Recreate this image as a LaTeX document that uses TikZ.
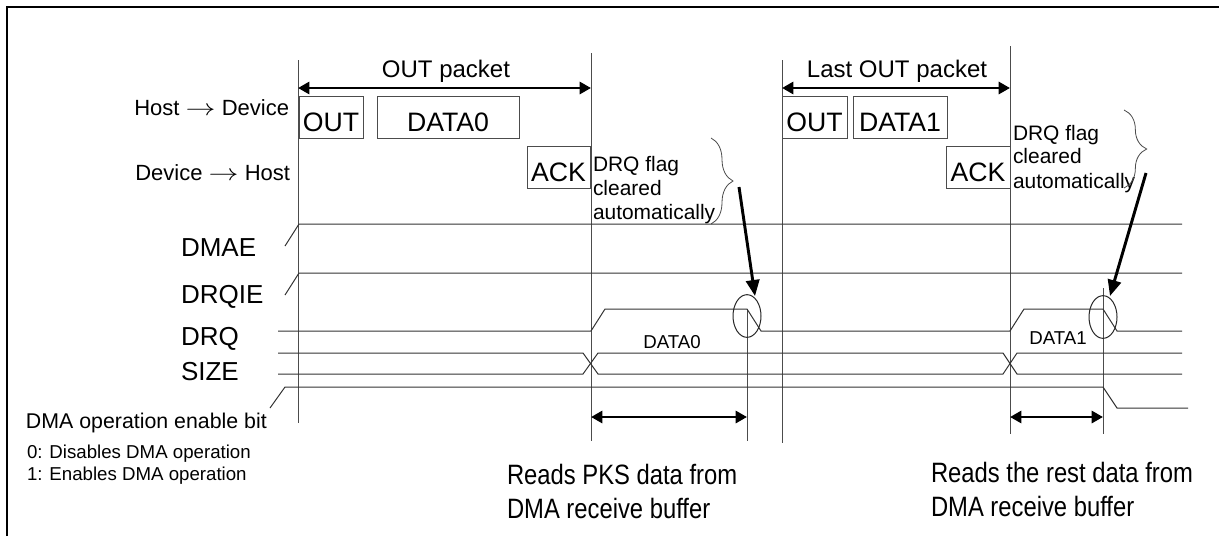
\documentclass[tikz,border=0pt]{standalone}
\usepackage{graphicx}
\usepackage{fontspec}
\setmainfont{Liberation Sans}
\newfontfamily\narrowfont[FakeStretch=0.85]{Liberation Sans}
\usetikzlibrary{arrows.meta,decorations.pathreplacing,shapes.geometric}
\colorlet{lncol}{black!80}
\newcommand{\harr}{\scalebox{1.3}[1]{$\rightarrow$}}
\tikzset{
  txt/.style={inner sep=0pt, outer sep=0pt, text=black},
  pkt/.style={txt, font=\fontsize{18}{21}\selectfont},
  hdtxt/.style={txt, font=\fontsize{16.5}{19}\selectfont},
  boxtxt/.style={txt, font=\fontsize{20}{24}\selectfont},
  sigtxt/.style={txt, font=\fontsize{19.5}{23}\selectfont},
  notetxt/.style={txt, font=\fontsize{15.7}{18}\selectfont},
  bittxt/.style={txt, font=\fontsize{16}{19}\selectfont},
  smalltxt/.style={txt, font=\fontsize{14}{17}\selectfont},
  datatxt/.style={txt, font=\fontsize{14}{17}\selectfont},
  readtxt/.style={txt, font=\narrowfont\fontsize{21}{25}\selectfont},
  sig/.style={draw=lncol, line width=0.75pt},
  vline/.style={draw=black!70, line width=0.75pt},
  pbox/.style={draw=black!70, line width=0.75pt},
  bigarrow/.style={line width=2.2pt, {Triangle[length=8.5pt,width=9pt]}-{Triangle[length=8.5pt,width=9pt]}},
  pointer/.style={line width=2.2pt, -{Triangle[length=12pt,width=10pt]}},
  bracestyle/.style={draw=black!70, line width=0.6pt, decorate},
  ring/.style={draw=black!85, line width=0.75pt, ellipse, inner sep=0pt, minimum width=21pt, minimum height=32pt},
}
\begin{document}
\begin{tikzpicture}[x=0.75pt,y=-0.75pt]
\useasboundingbox (0,0) rectangle (1219,536);
% frame
\draw[line width=1.8pt] (7,536) -- (7,7) -- (1219,7);

% vertical guide lines
\coordinate (v1t) at (298,60);   \coordinate (v1b) at (298,423);
\coordinate (v2t) at (591,53);   \coordinate (v2b) at (591,441);
\coordinate (v3t) at (747,309);  \coordinate (v3b) at (747,441);
\coordinate (v4t) at (782,60);   \coordinate (v4b) at (782,443);
\coordinate (v5t) at (1010,46);  \coordinate (v5b) at (1010,434);
\coordinate (v6t) at (1103,288); \coordinate (v6b) at (1103,434);
\foreach \v in {1,...,6} { \draw[vline] (v\v t) -- (v\v b); }

% packet arrows
\coordinate (pa1l) at (298,88); \coordinate (pa1r) at (591,88);
\coordinate (pa2l) at (782,88); \coordinate (pa2r) at (1010,88);
\draw[bigarrow] (pa1l) -- (pa1r);
\draw[bigarrow] (pa2l) -- (pa2r);
\node[pkt, anchor=base] (lp1) at (446,77) {OUT packet};
\node[pkt, anchor=base] (lp2) at (897,77) {Last OUT packet};

% direction labels
\node[hdtxt, anchor=base east] (hd) at (289,115) {Host \harr{} Device};
\node[hdtxt, anchor=base east] (dh) at (290,180) {Device \harr{} Host};

% packet boxes
\draw[pbox] (299,96) rectangle (363,138);
\draw[pbox] (377,96) rectangle (519,138);
\draw[pbox] (527,146) rectangle (590,188);
\draw[pbox] (782,96) rectangle (847,138);
\draw[pbox] (853,96) rectangle (947,138);
\draw[pbox] (946,146) rectangle (1010,188);
\node[boxtxt, anchor=base] (bout1) at (331,131) {OUT};
\node[boxtxt, anchor=base] (bdata0) at (448,131) {DATA0};
\node[boxtxt, anchor=base] (back1) at (558.5,181) {ACK};
\node[boxtxt, anchor=base] (bout2) at (814.5,131) {OUT};
\node[boxtxt, anchor=base] (bdata1) at (900,131) {DATA1};
\node[boxtxt, anchor=base] (back2) at (978,181) {ACK};

% notes
\node[notetxt, anchor=base west] (n1a) at (593,171) {DRQ flag};
\node[notetxt, anchor=base west] (n1b) at (593,195) {cleared};
\node[notetxt, anchor=base west] (n1c) at (593,219) {automatically};
\node[notetxt, anchor=base west] (n2a) at (1013,140) {DRQ flag};
\node[notetxt, anchor=base west] (n2b) at (1013,163) {cleared};
\node[notetxt, anchor=base west] (n2c) at (1013,188) {automatically};
\draw[bracestyle, decoration={brace, amplitude=16.5pt}] (711,138) -- (711,224);
\draw[bracestyle, decoration={brace, amplitude=17pt}] (1124,110) -- (1124,188);

% signal labels
\node[sigtxt, anchor=base west] (ldmae) at (181,256) {DMAE};
\node[sigtxt, anchor=base west] (ldrqie) at (181,303) {DRQIE};
\node[sigtxt, anchor=base west] (ldrq) at (181,345) {DRQ};
\node[sigtxt, anchor=base west] (lsize) at (181,380) {SIZE};
\node[bittxt, anchor=base west] (lbit) at (26,428) {DMA operation enable bit};
\node[smalltxt, anchor=base west] (lb0) at (27,458) {0: Disables DMA operation};
\node[smalltxt, anchor=base west] (lb1) at (27,480) {1: Enables DMA operation};

% waveforms
\draw[sig] (285,246) -- (299,224) -- (1182,224);
\draw[sig] (285,295) -- (299,273) -- (1182,273);
\draw[sig] (278,331) -- (591,331) -- (605,309) -- (747,309) -- (761,331) -- (1010,331)
  -- (1024,309) -- (1103,309) -- (1117,331) -- (1182,331);
\draw[sig] (278,353) -- (583,353) -- (598,374) -- (1003,374) -- (1017,353) -- (1182,353);
\draw[sig] (278,374) -- (583,374) -- (598,353) -- (1003,353) -- (1017,374) -- (1182,374);
\draw[sig] (270,408) -- (285,387) -- (1103,387) -- (1117,408) -- (1188,408);
\node[datatxt, anchor=base] (ld0) at (672,348) {DATA0};
\node[datatxt, anchor=base] (ld1) at (1058,344) {DATA1};

% rings and pointers
\node[ring] (c1) at (747,316) {};
\node[ring] (c2) at (1103,317) {};
\coordinate (p1s) at (739,187); \coordinate (p1e) at (755,296);
\coordinate (p2s) at (1146,173); \coordinate (p2e) at (1110,296);
\draw[pointer] (p1s) -- (p1e);
\draw[pointer] (p2s) -- (p2e);

% read arrows
\coordinate (r1l) at (591,417); \coordinate (r1r) at (747,417);
\coordinate (r2l) at (1010,417); \coordinate (r2r) at (1103,417);
\draw[bigarrow] (r1l) -- (r1r);
\draw[bigarrow] (r2l) -- (r2r);
\node[readtxt, anchor=base west] (rd1a) at (507,484) {Reads PKS data from};
\node[readtxt, anchor=base west] (rd1b) at (507,518) {DMA receive buffer};
\node[readtxt, anchor=base west] (rd2a) at (931,482) {Reads the rest data from};
\node[readtxt, anchor=base west] (rd2b) at (931,516) {DMA receive buffer};
\end{tikzpicture}
\end{document}
